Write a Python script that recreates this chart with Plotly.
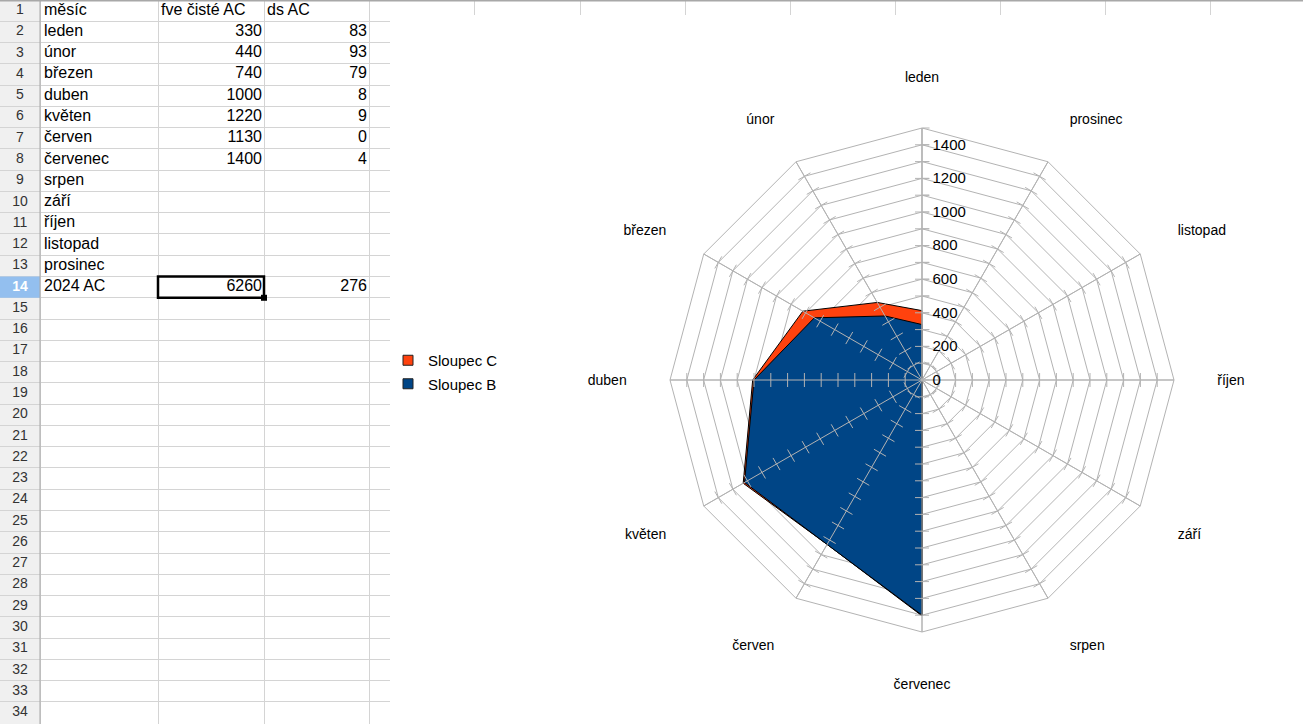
import plotly.graph_objects as go

# spreadsheet data
mesice = ["leden", "únor", "březen", "duben", "květen", "červen",
          "červenec", "srpen", "září", "říjen", "listopad", "prosinec"]
fve_ciste_ac = [330, 440, 740, 1000, 1220, 1130, 1400, None, None, None, None, None]
ds_ac = [83, 93, 79, 8, 9, 0, 4, None, None, None, None, None]
sloupce = ["měsíc", "fve čisté AC", "ds AC"]
souhrn_popis = "2024 AC"

radial_ticks = list(range(0, 1501, 100))
radial_labels = [str(v) if v % 200 == 0 and v <= 1400 else "" for v in radial_ticks]

W, H = 1303, 724
ROW_H = 21.27
N_ROWS = H / ROW_H
FONT = "Liberation Sans"
GRID = "#b3b3b3"
CELL_LINE = "#d4d4d4"
BLUE = "#004586"
ORANGE = "#ff420e"

# sheet column edges in px: row header | A | B | C | part of D
col_edges = [0, 40, 158, 264, 369]
SHEET_W = 390
top_edges = [474, 580, 685, 790, 895, 1000, 1105, 1210]

total_fve = sum(v for v in fve_ciste_ac if v is not None)
total_ds = sum(v for v in ds_ac if v is not None)
n_data = len(mesice) + 1  # months + total row
active_row = n_data  # 0-based row of "2024 AC"

fig = go.Figure()

# ---- spreadsheet -------------------------------------------------------
sx = dict(xaxis="x", yaxis="y", mode="text", hoverinfo="skip", showlegend=False)

row_numbers = [str(i + 1) for i in range(34)]
row_numbers[active_row] = "<b>%s</b>" % row_numbers[active_row]
num_colors = ["#333333"] * 34
num_colors[active_row] = "white"
fig.add_trace(go.Scatter(
    x=[(col_edges[0] + col_edges[1]) / 2] * 34, y=[i + 0.5 for i in range(34)],
    text=row_numbers, textposition="middle center",
    textfont=dict(family=FONT, size=14, color=num_colors), **sx,
))

col_a = [sloupce[0]] + mesice + [souhrn_popis]
fig.add_trace(go.Scatter(
    x=[col_edges[1] + 4] * len(col_a), y=[i + 0.5 for i in range(len(col_a))],
    text=col_a, textposition="middle right",
    textfont=dict(family=FONT, size=16, color="black"), **sx,
))
fig.add_trace(go.Scatter(
    x=[col_edges[2] + 3, col_edges[3] + 3], y=[0.5, 0.5],
    text=sloupce[1:], textposition="middle right",
    textfont=dict(family=FONT, size=16, color="black"), **sx,
))

for values, total, right in [(fve_ciste_ac, total_fve, col_edges[3]),
                             (ds_ac, total_ds, col_edges[4])]:
    rows = [i + 1 for i, v in enumerate(values) if v is not None] + [active_row]
    texts = [str(v) for v in values if v is not None] + [str(total)]
    fig.add_trace(go.Scatter(
        x=[right - 2] * len(rows), y=[r + 0.5 for r in rows],
        text=texts, textposition="middle left",
        textfont=dict(family=FONT, size=16, color="black"), **sx,
    ))

# row header background, highlighted active row, active cell frame
fig.add_shape(type="rect", xref="x", yref="y", x0=col_edges[0], x1=col_edges[1], y0=0, y1=N_ROWS,
              fillcolor="#f0f0f0", line=dict(width=0), layer="below")
fig.add_shape(type="rect", xref="x", yref="y", x0=col_edges[0], x1=col_edges[1],
              y0=active_row, y1=active_row + 1, fillcolor="#93bfef", line=dict(width=0), layer="between")
fig.add_shape(type="line", xref="x", yref="y", x0=col_edges[1], x1=col_edges[1], y0=0, y1=N_ROWS,
              line=dict(color="#a8a8a8", width=1), layer="between")
fig.add_shape(type="rect", xref="x", yref="y", x0=col_edges[2], x1=col_edges[3],
              y0=active_row, y1=active_row + 1, line=dict(color="black", width=2.5))
fig.add_shape(type="rect", xref="x", yref="y", x0=col_edges[3] - 3, x1=col_edges[3] + 3,
              y0=active_row + 1 - 3 / ROW_H, y1=active_row + 1 + 3 / ROW_H,
              fillcolor="black", line=dict(width=0))
# header bar edge at the very top
fig.add_shape(type="rect", xref="paper", yref="paper", x0=0, x1=1, y0=1 - 1.5 / H, y1=1,
              fillcolor="#a8a8a8", line=dict(width=0))

# ---- stacked radar: C on top of B, empty cells count as zero ------------
b_vals = [v or 0 for v in fve_ciste_ac]
c_stack = [(b or 0) + (c or 0) for b, c in zip(fve_ciste_ac, ds_ac)]

fig.add_trace(go.Scatterpolar(
    r=c_stack + [c_stack[0]], theta=mesice + [mesice[0]], mode="lines", fill="toself",
    fillcolor=ORANGE, line=dict(color="black", width=1), showlegend=False, hoverinfo="skip",
))
fig.add_trace(go.Scatterpolar(
    r=b_vals + [b_vals[0]], theta=mesice + [mesice[0]], mode="lines", fill="toself",
    fillcolor=BLUE, line=dict(color="black", width=1), showlegend=False, hoverinfo="skip",
))

# spokes and tick crosses drawn above the filled areas
r_max = radial_ticks[-1]
spoke_r, spoke_t = [], []
for m in mesice:
    spoke_r += [0, r_max, None]
    spoke_t += [m, m, m]
fig.add_trace(go.Scatterpolar(
    r=spoke_r, theta=spoke_t, mode="lines", line=dict(color=GRID, width=1),
    showlegend=False, hoverinfo="skip",
))
cross_r, cross_t, cross_a = [], [], []
for i, m in enumerate(mesice):
    for v in radial_ticks[1:-1]:
        cross_r.append(v)
        cross_t.append(m)
        cross_a.append(-(90 + 30 * i))
fig.add_trace(go.Scatterpolar(
    r=cross_r, theta=cross_t, mode="markers",
    marker=dict(symbol="line-ns", size=10, angle=cross_a, line=dict(color=GRID, width=1)),
    showlegend=False, hoverinfo="skip",
))

# legend entries
for name, color in [("Sloupec C", ORANGE), ("Sloupec B", BLUE)]:
    fig.add_trace(go.Scatterpolar(
        r=[None], theta=[mesice[0]], mode="markers", name=name, legendgroup=name,
        marker=dict(symbol="square", size=10, color=color, line=dict(color="#222222", width=1)),
    ))

cx, cy, rad = 922, 380, 252
fig.update_layout(
    width=W, height=H,
    margin=dict(l=0, r=0, t=0, b=0),
    paper_bgcolor="white",
    plot_bgcolor="rgba(0,0,0,0)",
    font=dict(family=FONT, size=14, color="black"),
    xaxis=dict(domain=[0, SHEET_W / W], range=[0, SHEET_W], tickvals=col_edges,
               showgrid=True, gridcolor=CELL_LINE, gridwidth=1, zeroline=False,
               showticklabels=False, ticks="", fixedrange=True),
    yaxis=dict(domain=[0, 1], range=[N_ROWS, 0], tickvals=list(range(35)),
               showgrid=True, gridcolor=CELL_LINE, gridwidth=1, zeroline=False,
               showticklabels=False, ticks="", fixedrange=True),
    xaxis2=dict(domain=[SHEET_W / W, 1], range=[SHEET_W, W], tickvals=top_edges,
                showgrid=True, gridcolor=CELL_LINE, gridwidth=1, zeroline=False,
                showticklabels=False, ticks="", fixedrange=True, anchor="y2"),
    yaxis2=dict(domain=[1 - 15 / H, 1], range=[0, 1], showgrid=False, zeroline=False,
                showticklabels=False, ticks="", fixedrange=True, anchor="x2"),
    polar=dict(
        domain=dict(x=[(cx - rad) / W, (cx + rad) / W], y=[(H - cy - rad) / H, (H - cy + rad) / H]),
        bgcolor="white",
        gridshape="linear",
        angularaxis=dict(
            categoryorder="array", categoryarray=mesice,
            direction="counterclockwise", rotation=90,
            showline=True, linecolor=GRID, linewidth=1,
            gridcolor=GRID, gridwidth=1,
            ticks="outside", ticklen=40, tickcolor="rgba(0,0,0,0)",
            tickfont=dict(family=FONT, size=14, color="black"),
        ),
        radialaxis=dict(
            range=[0, r_max], tickvals=radial_ticks, ticktext=radial_labels,
            angle=90, tickangle=90, side="clockwise",
            showline=True, linecolor=GRID, linewidth=1,
            gridcolor=GRID, gridwidth=1,
            ticks="outside", ticklen=7, tickcolor=GRID,
            tickfont=dict(family=FONT, size=15, color="black"),
        ),
    ),
    legend=dict(
        x=388 / W, y=1 - 344 / H, xanchor="left", yanchor="top",
        font=dict(family=FONT, size=15, color="black"),
        bgcolor="rgba(0,0,0,0)", tracegroupgap=1, itemwidth=30,
    ),
)
# dummy trace so the top strip axes are drawn
fig.add_trace(go.Scatter(x=[None], y=[None], xaxis="x2", yaxis="y2", showlegend=False, hoverinfo="skip"))

fig.write_html("out.html", config={"displayModeBar": False},
               post_script="document.body.style.margin='0px';")
